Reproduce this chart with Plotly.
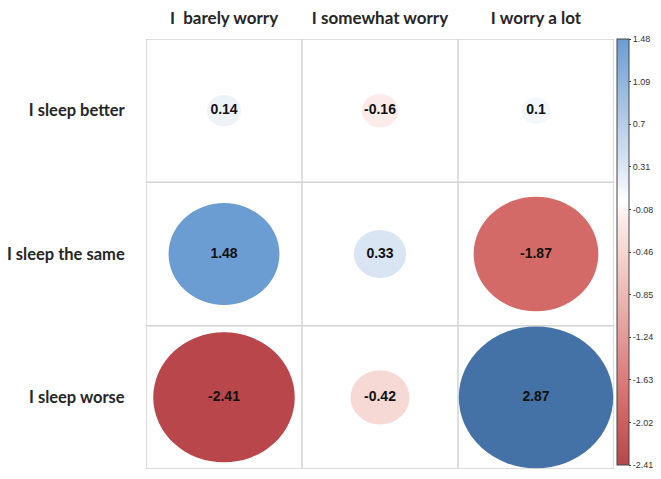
"""Bubble-style correlation grid: sleep quality vs. level of worry."""
import numpy as np
import plotly.graph_objects as go

# ---------------------------------------------------------------------------
# Data
# ---------------------------------------------------------------------------

COLUMNS = ["I\u00a0 barely worry", "I somewhat worry", "I worry a lot"]
ROWS = ["I sleep better", "I sleep the same", "I sleep worse"]

# one list per row, ordered like COLUMNS
SLEEP_BETTER = [0.14, -0.16, 0.1]
SLEEP_SAME = [1.48, 0.33, -1.87]
SLEEP_WORSE = [-2.41, -0.42, 2.87]

COLORBAR_TICKTEXT = ["-2.41", "-2.02", "-1.63", "-1.24", "-0.85", "-0.46",
                     "-0.08", "0.31", "0.7", "1.09", "1.48"]

# ---------------------------------------------------------------------------
# Style
# ---------------------------------------------------------------------------

# value -> colour anchors (diverging red / white / blue)
_COLOR_STOPS = [
    (-2.41, "#B8464A"),
    (-1.87, "#D46A67"),
    (-0.42, "#F6D9D5"),
    (-0.16, "#FBEBE9"),
    (0.0, "#FFFFFF"),
    (0.14, "#EEF3FA"),
    (0.33, "#DAE5F3"),
    (1.48, "#6B9DD2"),
    (2.87, "#4472A6"),
]
_GRID_COLOR = "#D3D3D3"
_HEAD_FONT = {"family": "Lato, 'Open Sans', sans-serif", "size": 17,
              "color": "#262626", "weight": "bold"}
_ROW_FONT = {"family": "Lato, 'Open Sans', sans-serif", "size": 16.5,
             "color": "#262626", "weight": "bold"}
_NUM_FONT = {"family": "Arial, 'Liberation Sans', sans-serif", "size": 14,
             "color": "#111111", "weight": "bold"}

# the page body has an 8px margin on every side; keep the figure inside the window
_PAGE_OFFSET = 8


def _hex_to_rgb(h):
    h = h.lstrip("#")
    return np.array([int(h[i:i + 2], 16) for i in (0, 2, 4)], dtype=float)


def _color_for(v):
    vals = [s[0] for s in _COLOR_STOPS]
    rgbs = [_hex_to_rgb(s[1]) for s in _COLOR_STOPS]
    v = min(max(v, vals[0]), vals[-1])
    for i in range(len(vals) - 1):
        if vals[i] <= v <= vals[i + 1]:
            t = (v - vals[i]) / (vals[i + 1] - vals[i])
            c = rgbs[i] + t * (rgbs[i + 1] - rgbs[i])
            return "rgb({:.0f},{:.0f},{:.0f})".format(*c)
    return "rgb(255,255,255)"


def _colorscale(lo, hi):
    stops = [s for s in _COLOR_STOPS if lo <= s[0] <= hi]
    return [[(v - lo) / (hi - lo), c] for v, c in stops]


matrix = [SLEEP_BETTER, SLEEP_SAME, SLEEP_WORSE]
vmax = max(abs(v) for row in matrix for v in row)
cb_min, cb_max = -2.41, 1.48

fig = go.Figure()

shapes = []
# cell borders
for i in range(len(COLUMNS) + 1):
    shapes.append(dict(type="line", xref="x", yref="y", x0=i - 0.5, x1=i - 0.5,
                       y0=-0.5, y1=len(ROWS) - 0.5, layer="below",
                       line={"color": _GRID_COLOR, "width": 1.5}))
for j in range(len(ROWS) + 1):
    shapes.append(dict(type="line", xref="x", yref="y", x0=-0.5, x1=len(COLUMNS) - 0.5,
                       y0=j - 0.5, y1=j - 0.5, layer="below",
                       line={"color": _GRID_COLOR, "width": 1.5}))

# ellipses: area proportional to |value|
xs, ys, labels = [], [], []
for r, row in enumerate(matrix):
    for c, v in enumerate(row):
        half = 0.495 * np.sqrt(abs(v) / vmax)
        shapes.append(dict(type="circle", xref="x", yref="y",
                           x0=c - half, x1=c + half, y0=r - half, y1=r + half,
                           fillcolor=_color_for(v), line={"width": 0},
                           layer="below"))
        xs.append(c)
        ys.append(r)
        labels.append(f"{v:g}")

fig.add_trace(go.Scatter(
    x=xs, y=ys, mode="text", text=labels, textfont=_NUM_FONT,
    hoverinfo="skip", showlegend=False,
))

# colour bar only
fig.add_trace(go.Scatter(
    x=[None], y=[None], mode="markers", showlegend=False, hoverinfo="skip",
    marker={
        "color": [cb_min, cb_max], "cmin": cb_min, "cmax": cb_max,
        "colorscale": _colorscale(cb_min, cb_max), "showscale": True,
        "colorbar": {
            "x": 1.0064, "xanchor": "left", "xpad": 0,
            "y": 1.0, "yanchor": "top", "ypad": 0, "len": 0.99,
            "thickness": 12, "outlinewidth": 1, "outlinecolor": "#444444",
            "tickvals": list(np.linspace(cb_min, cb_max, len(COLORBAR_TICKTEXT))),
            "ticktext": COLORBAR_TICKTEXT,
            "ticks": "outside", "ticklen": 2, "tickcolor": "#444444",
            "tickfont": {"family": "Arial, 'Liberation Sans', sans-serif",
                         "size": 9, "color": "#333333"},
        },
    },
))

fig.update_layout(
    width=661 - 2 * _PAGE_OFFSET, height=479 - 2 * _PAGE_OFFSET,
    margin={"l": 146 - _PAGE_OFFSET, "r": 39, "t": 39 - _PAGE_OFFSET, "b": 2,
            "autoexpand": False},
    paper_bgcolor="white", plot_bgcolor="white",
    shapes=shapes,
    xaxis={
        "range": [-0.5, len(COLUMNS) - 0.5], "side": "top",
        "tickvals": list(range(len(COLUMNS))), "ticktext": COLUMNS,
        "showgrid": False, "zeroline": False, "showline": False,
        "ticks": "outside", "ticklen": 7, "tickcolor": "rgba(0,0,0,0)",
        "tickfont": _HEAD_FONT, "fixedrange": True, "automargin": False,
    },
    yaxis={
        "range": [len(ROWS) - 0.5, -0.5],
        "tickvals": list(range(len(ROWS))), "ticktext": ROWS,
        "showgrid": False, "zeroline": False, "showline": False,
        "ticks": "outside", "ticklen": 17, "tickcolor": "rgba(0,0,0,0)",
        "tickfont": _ROW_FONT, "fixedrange": True, "automargin": False,
    },
)

fig.write_html("out.html")
